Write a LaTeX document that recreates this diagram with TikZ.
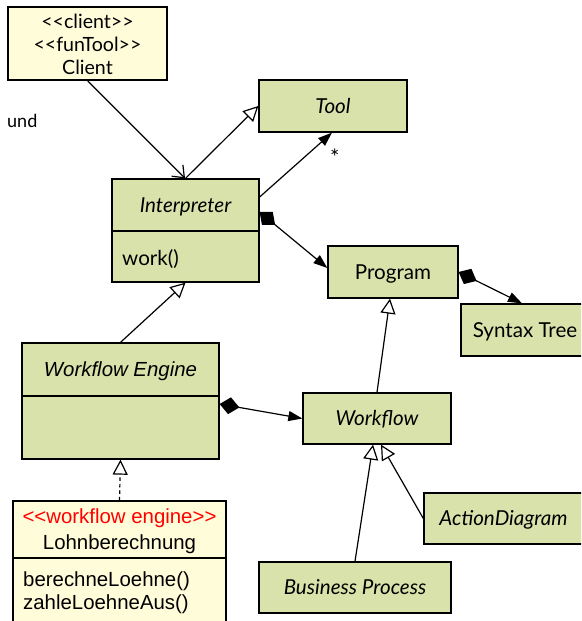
\documentclass[tikz,border=0pt]{standalone}
\usepackage{fontspec}
\setmainfont{Lato}
\newfontfamily\arialf{Liberation Sans}
\usetikzlibrary{arrows.meta}
\definecolor{umlgreen}{RGB}{217,226,170}
\definecolor{umlyellow}{RGB}{255,252,218}
\tikzset{
  gbox/.style={draw=black, line width=1.3pt, fill=umlgreen, inner sep=0pt, text height=15pt, text depth=1pt, font=\fontsize{20.6}{24}\selectfont},
  ybox/.style={draw=black, line width=1.3pt, fill=umlyellow, inner sep=0pt},
  lbl/.style={inner sep=0pt},
  conn/.style={line width=1.2pt},
  gen/.style={conn, -{Triangle[open, length=15pt, width=15pt, fill=white]}},
  nav/.style={conn, -{Triangle[length=14pt, width=10pt]}},
  openarr/.style={conn, -{Straight Barb[length=10pt, width=16pt]}},
  comp/.style={conn, {Diamond[length=20pt, width=17pt]}-{Triangle[length=14pt, width=10pt]}},
  arialtxt/.style={font=\arialf\fontsize{20.4}{24}\selectfont},
}
\begin{document}
\begin{tikzpicture}[x=1pt,y=-1pt]
\useasboundingbox (0,0) rectangle (581,621);
\clip (0,0) rectangle (581,621);
\fill[white] (0,0) rectangle (581,621);

% Client
\node[ybox, minimum width=159pt, minimum height=73pt] (client) at (87.5,43.5) {};
\node[lbl, font=\fontsize{19.6}{23}\selectfont, align=center] (clienttxt) at (87.5,44) {<{}<client>{}>\\<{}<funTool>{}>\\Client};

\node[lbl, font=\fontsize{18}{20}\selectfont, anchor=base west] (und) at (7,127) {und};

% Tool
\node[gbox, minimum width=148pt, minimum height=52pt] (tool) at (333,106) {\itshape Tool};

% Interpreter
\node[gbox, minimum width=147pt, minimum height=52pt] (interptop) at (185.5,205) {\itshape Interpreter};
\node[gbox, minimum width=147pt, minimum height=51pt] (interpbot) at (185.5,256.5) {};
\node[lbl, font=\fontsize{20.6}{24}\selectfont, anchor=base west] (work) at (122,265) {work()};

% Program
\node[gbox, minimum width=130pt, minimum height=52pt] (program) at (393,272) {Program};

% Syntax Tree
\node[gbox, minimum width=128pt, minimum height=52pt] (syntax) at (525,330) {Syntax Tree};

% Workflow Engine
\node[gbox, minimum width=197pt, minimum height=53pt, arialtxt] (wetop) at (120.5,369.5) {\itshape Workflow Engine};
\node[gbox, minimum width=197pt, minimum height=63pt] (webot) at (120.5,427.5) {};

% Workflow
\node[gbox, minimum width=148pt, minimum height=51pt] (workflow) at (377,418.5) {\itshape Workflow};

% ActionDiagram
\node[gbox, minimum width=159pt, minimum height=51pt] (ad) at (503.5,518.5) {\itshape ActionDiagram};

% Business Process
\node[gbox, minimum width=192pt, minimum height=51pt] (bp) at (355,587.5) {\itshape Business Process};

% Lohnberechnung
\node[ybox, minimum width=213pt, minimum height=57pt] (lohntop) at (119.5,529.5) {};
\node[ybox, minimum width=213pt, minimum height=82pt] (lohnbot) at (119.5,599) {};
\node[lbl, arialtxt, text=red] (stereo) at (119.5,518) {<{}<workflow engine>{}>};
\node[lbl, arialtxt] (lohnname) at (119.5,544) {Lohnberechnung};
\node[lbl, arialtxt, anchor=west] (m1) at (23,581) {berechneLoehne()};
\node[lbl, arialtxt, anchor=west] (m2) at (23,604) {zahleLoehneAus()};

% Connectors
\draw[openarr] (client.south) -- ([xshift=-0.5pt]interptop.north);
\draw[gen] (interptop.north) -- (tool.west);
\draw[nav] ([yshift=8pt]interptop.east) -- ([xshift=-1pt]tool.south)
  node[pos=0.62, right=25pt, lbl, font=\fontsize{22}{24}\selectfont] (star) {*};
\draw[comp] ([yshift=-7pt]interptop.east) -- ([yshift=4pt]program.west);
\draw[comp] (program.east) -- ([xshift=-3pt]syntax.north);
\draw[gen] (wetop.north) -- (interpbot.south);
\draw[comp] ([yshift=23.5pt]webot.east) -- (workflow.west);
\draw[gen] (workflow.north) -- ([xshift=-3pt]program.south);
\draw[gen] (bp.north) -- ([xshift=-4pt]workflow.south);
\draw[gen] (ad.west) -- ([xshift=4pt]workflow.south);
\draw[conn, dash pattern=on 3.5pt off 3pt, -{Triangle[open, length=15pt, width=15pt, fill=white]}] (lohntop.north) -- (webot.south);
\end{tikzpicture}
\end{document}
